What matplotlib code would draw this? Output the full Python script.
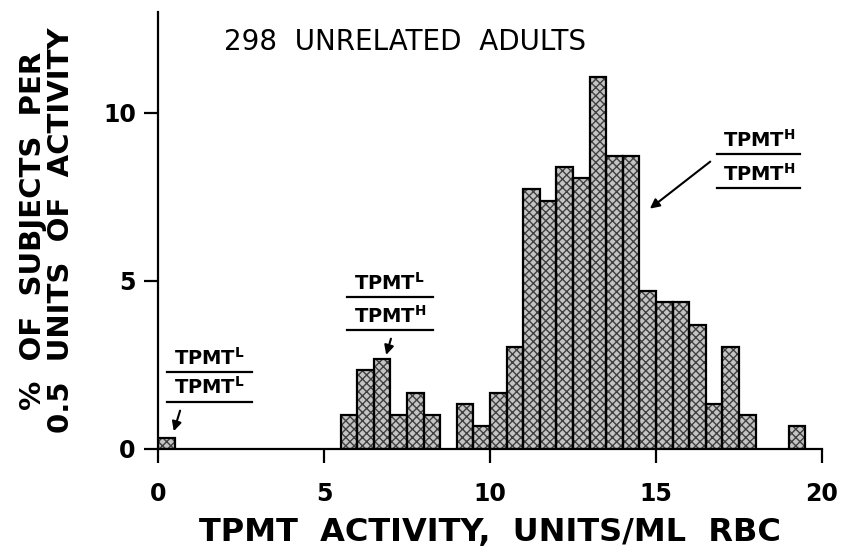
import matplotlib
matplotlib.use('Agg')
import matplotlib.pyplot as plt

# histogram bins (left edge, 0.5 units wide) and % of subjects in each bin
bin_left = [0.0, 5.5, 6.0, 6.5, 7.0, 7.5, 8.0, 9.0, 9.5, 10.0, 10.5, 11.0, 11.5,
            12.0, 12.5, 13.0, 13.5, 14.0, 14.5, 15.0, 15.5, 16.0, 16.5, 17.0, 17.5, 19.0]
pct = [0.34, 1.01, 2.35, 2.68, 1.01, 1.68, 1.01, 1.34, 0.67, 1.68, 3.02, 7.72, 7.38,
       8.39, 8.05, 11.07, 8.72, 8.72, 4.70, 4.36, 4.36, 3.69, 1.34, 3.02, 1.01, 0.67]
bin_width = 0.5
xticks = [0, 5, 10, 15, 20]
yticks = [0, 5, 10]

plt.rcParams['font.family'] = 'DejaVu Sans'
plt.rcParams['mathtext.fontset'] = 'dejavusans'

fig = plt.figure(figsize=(8.44, 5.52), dpi=100)
ax = fig.add_axes([158 / 844, 103 / 552, 664 / 844, 437 / 552])

# shaded fill, then the black outlines on top
ax.bar(bin_left, pct, width=bin_width, align='edge', facecolor='#c4c4c4',
       edgecolor='#404040', hatch='xxxx', linewidth=0)
ax.bar(bin_left, pct, width=bin_width, align='edge', fill=False,
       edgecolor='black', linewidth=1.6)

ax.set_xlim(0, 20)
ax.set_ylim(0, 13)
ax.set_xticks(xticks)
ax.set_yticks(yticks)
ax.spines['top'].set_visible(False)
ax.spines['right'].set_visible(False)
ax.spines['left'].set_linewidth(1.6)
ax.spines['bottom'].set_linewidth(1.6)
ax.tick_params(axis='both', direction='out', length=10, width=1.6, labelsize=17)
ax.tick_params(axis='x', pad=14)
ax.tick_params(axis='y', pad=6)
for lbl in ax.get_xticklabels() + ax.get_yticklabels():
    lbl.set_fontweight('bold')

ax.set_xlabel('TPMT  ACTIVITY,  UNITS/ML  RBC', fontsize=23, fontweight='bold',
              labelpad=8)
ax.set_ylabel('%  OF  SUBJECTS  PER\n0.5  UNITS  OF  ACTIVITY', fontsize=21,
              fontweight='bold', labelpad=20, linespacing=1.0)

ax.text(2.0, 12.1, '298  UNRELATED  ADULTS', fontsize=20, va='center', ha='left')


def genotype(x0, x1, y_top, y_bot, sup1, sup2, fs=14):
    xc = (x0 + x1) / 2
    ax.text(xc, y_top + 0.1, r'$\mathbf{TPMT^{%s}}$' % sup1, fontsize=fs,
            ha='center', va='bottom')
    ax.plot([x0, x1], [y_top, y_top], color='black', lw=1.6)
    ax.text(xc, y_bot + 0.1, r'$\mathbf{TPMT^{%s}}$' % sup2, fontsize=fs,
            ha='center', va='bottom')
    ax.plot([x0, x1], [y_bot, y_bot], color='black', lw=1.6)


arrow = dict(arrowstyle='-|>', color='black', lw=1.5, mutation_scale=14)

genotype(0.27, 2.83, 2.28, 1.41, 'L', 'L')
ax.annotate('', xy=(0.45, 0.45), xytext=(0.69, 1.22), arrowprops=arrow)

genotype(5.69, 8.28, 4.52, 3.55, 'L', 'H')
ax.annotate('', xy=(6.85, 2.72), xytext=(7.04, 3.36), arrowprops=arrow)

genotype(16.85, 19.35, 8.78, 7.76, 'H', 'H')
ax.annotate('', xy=(14.75, 7.1), xytext=(16.7, 8.6), arrowprops=arrow)

fig.savefig('out.png', dpi=100)
